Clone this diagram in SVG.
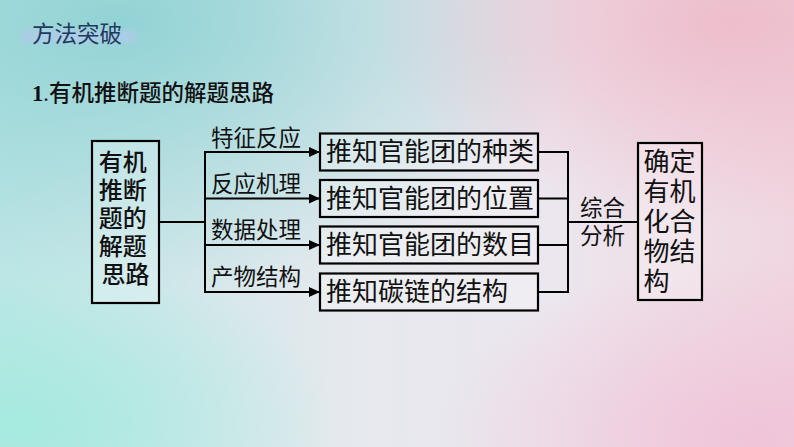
<svg xmlns="http://www.w3.org/2000/svg" width="794" height="447" viewBox="0 0 794 447">
  <defs>
    <linearGradient id="bgBase" x1="0" y1="0" x2="1" y2="0">
      <stop offset="0" stop-color="#bfe6e6"/>
      <stop offset="0.45" stop-color="#e6e9ee"/>
      <stop offset="0.7" stop-color="#ece6ee"/>
      <stop offset="1" stop-color="#f0d6e0"/>
    </linearGradient>
    <radialGradient id="tealTL" cx="0.15" cy="0.05" r="0.6">
      <stop offset="0" stop-color="#8fd2d4" stop-opacity="0.95"/>
      <stop offset="1" stop-color="#8fd2d4" stop-opacity="0"/>
    </radialGradient>
    <radialGradient id="tealBL" cx="0.02" cy="0.95" r="0.4">
      <stop offset="0" stop-color="#a4eadf" stop-opacity="0.95"/>
      <stop offset="1" stop-color="#a4eadf" stop-opacity="0"/>
    </radialGradient>
    <radialGradient id="pinkTR" cx="0.92" cy="0.05" r="0.45">
      <stop offset="0" stop-color="#eebccb" stop-opacity="0.95"/>
      <stop offset="1" stop-color="#eebccb" stop-opacity="0"/>
    </radialGradient>
    <radialGradient id="pinkBR" cx="0.95" cy="0.98" r="0.4">
      <stop offset="0" stop-color="#f0c2d8" stop-opacity="0.9"/>
      <stop offset="1" stop-color="#f0c2d8" stop-opacity="0"/>
    </radialGradient>
    <filter id="blur" x="-20%" y="-50%" width="140%" height="200%">
      <feGaussianBlur stdDeviation="2.5"/>
    </filter>
    <marker id="arrow" markerWidth="12" markerHeight="10" refX="11" refY="5" orient="auto" markerUnits="userSpaceOnUse">
      <path d="M0,0 L11,5 L0,10 Z" fill="#000"/>
    </marker>
  </defs>
  <style>
    .box { fill: #ffffff; fill-opacity: 0.25; stroke: #000; stroke-width: 2.2; }
    .line { fill: none; stroke: #000; stroke-width: 2; }
    .cjk { font-family: "Noto Sans CJK SC", "Noto Sans", sans-serif; fill: #111; }
    .w { font-weight: 500; }
    .t24 { font-size: 24px; }
    .t26 { font-size: 26px; }
    .t22 { font-size: 22.5px; }
  </style>

  <!-- background -->
  <rect x="0" y="0" width="794" height="447" fill="url(#bgBase)"/>
  <rect x="0" y="0" width="794" height="447" fill="url(#tealTL)"/>
  <rect x="0" y="0" width="794" height="447" fill="url(#tealBL)"/>
  <rect x="0" y="0" width="794" height="447" fill="url(#pinkTR)"/>
  <rect x="0" y="0" width="794" height="447" fill="url(#pinkBR)"/>

  <!-- header -->
  <g id="header">
    <rect x="22" y="30" width="114" height="13" fill="#aecbe8" opacity="0.85" filter="url(#blur)"/>
    <text x="32" y="41.5" class="cjk" font-size="22.5" style="fill:#1f3b5c">方法突破</text>
    <text x="32" y="100.5" class="cjk t22 w"><tspan font-family="'Liberation Serif', serif" font-weight="bold">1</tspan><tspan font-family="'Liberation Serif', serif">.</tspan>有机推断题的解题思路</text>
  </g>

  <!-- connectors -->
  <g id="connectors">
    <line class="line" x1="159" y1="222" x2="205" y2="222"/>
    <line class="line" x1="205" y1="151" x2="205" y2="293"/>
    <line class="line" x1="204" y1="152" x2="320" y2="152" marker-end="url(#arrow)"/>
    <line class="line" x1="204" y1="198.5" x2="320" y2="198.5" marker-end="url(#arrow)"/>
    <line class="line" x1="204" y1="245" x2="320" y2="245" marker-end="url(#arrow)"/>
    <line class="line" x1="204" y1="292" x2="320" y2="292" marker-end="url(#arrow)"/>
    <line class="line" x1="538" y1="152" x2="569" y2="152"/>
    <line class="line" x1="538" y1="198.5" x2="569" y2="198.5"/>
    <line class="line" x1="538" y1="245" x2="569" y2="245"/>
    <line class="line" x1="538" y1="292" x2="569" y2="292"/>
    <line class="line" x1="568" y1="151" x2="568" y2="293"/>
    <line class="line" x1="568" y1="222" x2="638" y2="222"/>
    <text x="211" y="145.5" class="cjk t22">特征反应</text>
    <text x="211" y="191.5" class="cjk t22">反应机理</text>
    <text x="211" y="237.5" class="cjk t22">数据处理</text>
    <text x="211" y="284.5" class="cjk t22">产物结构</text>
    <text x="580" y="216" class="cjk t22">综合</text>
    <text x="580" y="243.5" class="cjk t22">分析</text>
  </g>

  <!-- left node -->
  <g id="node-start">
    <rect class="box" x="92" y="141" width="67" height="162"/>
    <text class="cjk t24 w" text-anchor="middle">
      <tspan x="125.5" y="171">有机</tspan>
      <tspan x="125.5" y="199">推断</tspan>
      <tspan x="125.5" y="227">题的</tspan>
      <tspan x="125.5" y="255">解题</tspan>
      <tspan x="125.5" y="283">思路</tspan>
    </text>
  </g>

  <!-- middle nodes -->
  <g id="node-kind">
    <rect class="box" x="320" y="133.5" width="218" height="37"/>
    <text x="326" y="161" class="cjk t26">推知官能团的种类</text>
  </g>
  <g id="node-position">
    <rect class="box" x="320" y="180" width="218" height="37"/>
    <text x="326" y="207.5" class="cjk t26">推知官能团的位置</text>
  </g>
  <g id="node-number">
    <rect class="box" x="320" y="226.5" width="218" height="37"/>
    <text x="326" y="254" class="cjk t26">推知官能团的数目</text>
  </g>
  <g id="node-carbon">
    <rect class="box" x="320" y="273.5" width="218" height="37"/>
    <text x="326" y="301" class="cjk t26">推知碳链的结构</text>
  </g>

  <!-- right node -->
  <g id="node-result">
    <rect class="box" x="638" y="143" width="64" height="157"/>
    <text class="cjk t26">
      <tspan x="643.5" y="171">确定</tspan>
      <tspan x="643.5" y="201">有机</tspan>
      <tspan x="643.5" y="231">化合</tspan>
      <tspan x="643.5" y="261">物结</tspan>
      <tspan x="643.5" y="291">构</tspan>
    </text>
  </g>
</svg>
